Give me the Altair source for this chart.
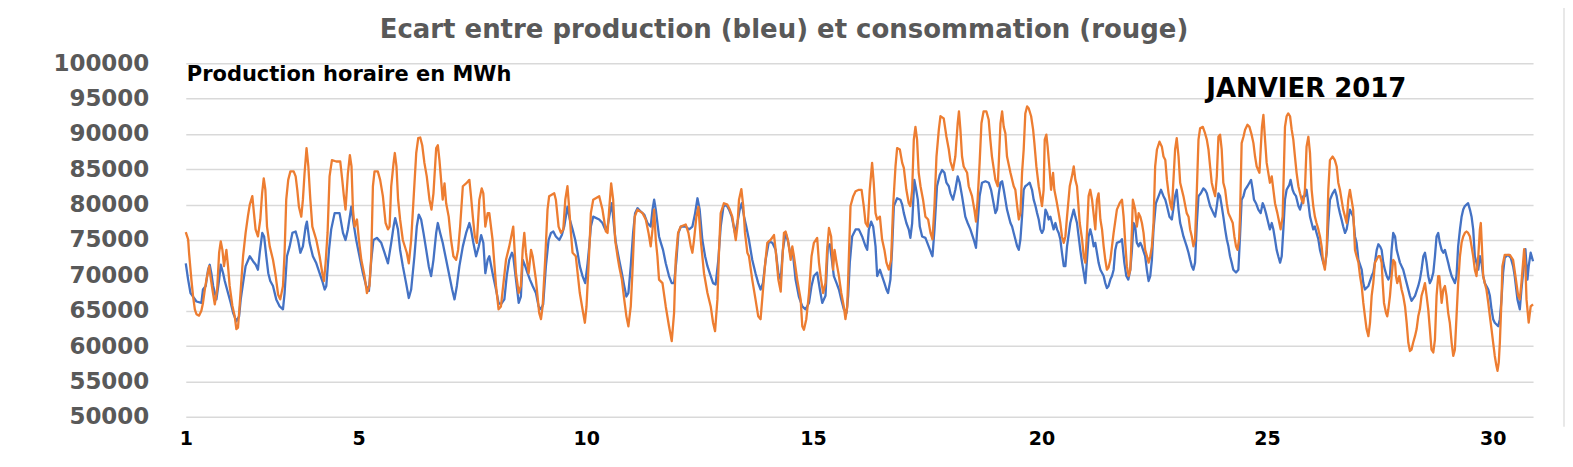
import altair as alt
import pandas as pd

# hourly production (blue): (hour of month, MWh)
production = [
    (0, 71700), (1.3, 69400), (2.6, 67500), (4.0, 67000), (5.9, 66300), (8.6, 66100), (9.5, 68000),
    (11.0, 68500), (12.3, 70800), (13.2, 71500), (14.1, 70300), (15.1, 68500), (16.9, 66600),
    (18.4, 69400), (19.3, 71500), (20.6, 70300), (21.5, 69200), (23.3, 67500), (24.8, 66100),
    (26.1, 64700), (27.9, 63500), (29.4, 64200), (30.3, 66600), (31.6, 68900), (33.0, 71300),
    (35.3, 72700), (37.1, 72000), (38.6, 71500), (39.8, 70800), (40.8, 73200), (42.2, 76000),
    (43.2, 75500), (44.4, 72700), (45.5, 70300), (46.6, 69200), (48.1, 68500), (49.9, 66600),
    (51.8, 65600), (53.6, 65200), (54.5, 67500), (55.8, 72700), (57.3, 74100), (58.8, 76000),
    (60.6, 76200), (61.9, 75000), (63.2, 73200), (64.6, 74100), (66.1, 76900), (66.8, 77600),
    (68.3, 74600), (70.1, 72700), (72.0, 71700), (73.8, 70300), (75.3, 69200), (76.6, 68000),
    (77.5, 68500), (79.0, 73600), (80.2, 76500), (82.1, 78800), (84.8, 78800), (86.7, 76000),
    (88.1, 75000), (89.4, 76500), (91.3, 79700), (92.5, 77400), (94.0, 75000), (95.8, 72700),
    (97.7, 70300), (99.5, 68500), (101.0, 67800), (102.3, 72200), (103.5, 75000), (105.4, 75300),
    (107.8, 74600), (109.6, 73200), (111.5, 71700), (113.3, 74600), (114.6, 76900), (115.5, 78100),
    (117.0, 76500), (118.2, 73600), (119.7, 71300), (121.5, 68900), (123.0, 66800), (124.3, 68000),
    (126.1, 72700), (127.4, 76900), (128.5, 78600), (129.8, 77900), (131.1, 76000), (132.6, 73600),
    (134.0, 71300), (135.3, 69900), (136.6, 72200), (138.1, 76000), (139.0, 77400), (140.3, 76000),
    (141.7, 74600), (143.6, 72200), (145.4, 69900), (146.9, 68000), (148.2, 66600), (149.5, 68500),
    (150.9, 71300), (152.8, 74100), (154.6, 76000), (156.4, 77400), (157.3, 76500), (158.6, 74600),
    (160.1, 72700), (161.6, 74100), (162.9, 75700), (164.1, 74600), (165.2, 70300), (166.5, 72200),
    (167.4, 72700), (169.2, 70300), (171.1, 68000), (172.5, 66100), (173.8, 65900), (175.7, 66600),
    (177.0, 69900), (178.4, 72200), (179.9, 73200), (180.6, 72700), (182.1, 69400), (183.6, 66100),
    (184.8, 67000), (185.8, 72200), (187.2, 71300), (188.5, 70300), (189.8, 69400), (191.3, 68500),
    (193.1, 67500), (194.6, 65600), (195.9, 65200), (197.1, 65900), (198.6, 71300), (200.1, 75000),
    (201.4, 76000), (202.7, 76200), (204.1, 75500), (206.0, 75000), (207.4, 75700), (208.7, 76900),
    (210.5, 79700), (211.8, 77900), (213.3, 76500), (214.8, 75000), (216.1, 73200), (217.3, 71300),
    (218.8, 69900), (220.3, 68900), (221.6, 71700), (222.5, 74100), (223.4, 76900), (224.7, 78300),
    (228.0, 77900), (229.8, 77400), (231.3, 76500), (232.6, 76900), (233.9, 78800), (235.0, 80200),
    (236.2, 76900), (237.2, 74600), (239.0, 72200), (240.5, 70300), (241.8, 68500), (243.0, 67000),
    (244.1, 67500), (245.4, 71300), (246.7, 76000), (247.8, 78800), (249.1, 79500), (251.0, 79000),
    (252.8, 78600), (254.6, 77400), (256.4, 76900), (257.4, 79300), (258.3, 80700), (259.2, 79300),
    (261.0, 75500), (262.0, 74600), (263.2, 73600), (264.7, 71700), (266.5, 69900), (268.0, 68900),
    (269.3, 68900), (270.6, 72200), (271.7, 76000), (273.0, 76900), (275.7, 76900), (277.6, 76500),
    (279.4, 76900), (280.9, 78800), (282.2, 80900), (283.4, 79300), (284.9, 75000), (286.4, 72700),
    (287.7, 71300), (289.5, 69900), (290.8, 68900), (292.2, 68700), (293.7, 72200), (295.0, 76900),
    (296.5, 79700), (298.1, 80000), (299.6, 79300), (301.1, 78300), (302.9, 76000), (304.2, 77400),
    (305.5, 79300), (306.6, 80200), (307.9, 78300), (309.1, 76900), (310.6, 75000), (312.4, 72200),
    (314.2, 70300), (315.7, 68900), (317.0, 68000), (318.3, 68900), (319.8, 72200), (321.6, 74800),
    (323.5, 74600), (325.3, 73600), (326.8, 70300), (328.1, 69400), (329.3, 73600), (330.8, 76000),
    (332.3, 74600), (333.6, 72700), (334.8, 73200), (336.3, 69400), (338.1, 67000), (340.0, 65600),
    (341.8, 65200), (343.7, 66100), (345.1, 68500), (346.4, 69900), (348.2, 70400), (349.7, 68000),
    (351.0, 66100), (352.8, 67100), (354.1, 74100), (355.2, 74400), (356.5, 71800), (357.4, 69900),
    (358.9, 68900), (360.2, 68000), (361.5, 66600), (362.9, 65200), (364.4, 64700), (365.3, 67100),
    (366.2, 71800), (367.5, 75500), (369.4, 76500), (371.2, 76500), (373.0, 75500), (374.9, 74100),
    (375.8, 73600), (376.7, 76500), (378.0, 77600), (379.1, 76900), (380.4, 74100), (381.3, 69900),
    (382.8, 70800), (384.0, 69900), (385.3, 68900), (386.4, 68000), (387.3, 67500), (388.6, 69400),
    (389.5, 73600), (390.5, 79800), (392.3, 80900), (394.1, 80700), (395.1, 80000), (396.0, 78800),
    (397.4, 77400), (398.7, 76500), (399.6, 75300), (400.6, 77400), (401.8, 83500), (402.8, 82100),
    (403.7, 80700), (404.8, 76900), (406.1, 75500), (407.9, 75300), (409.7, 74100), (411.0, 73200),
    (411.8, 72700), (412.9, 76500), (414.3, 82600), (415.8, 84200), (417.1, 84900), (418.4, 84500),
    (419.5, 83100), (420.8, 82600), (421.7, 81600), (423.1, 80700), (424.4, 82100), (425.7, 84000),
    (426.8, 83100), (428.1, 81200), (429.9, 78300), (431.2, 77400), (432.7, 76500), (434.5, 75100),
    (435.8, 73900), (436.7, 77400), (437.8, 81200), (439.1, 83100), (441.0, 83300), (442.8, 83100),
    (444.1, 82100), (445.5, 80200), (446.5, 78800), (447.4, 79300), (448.4, 81600), (449.3, 83100),
    (450.2, 83300), (451.1, 82100), (452.0, 80700), (452.9, 79300), (453.9, 78300), (454.8, 77400),
    (455.7, 76900), (456.6, 76000), (457.5, 75100), (458.5, 74100), (459.4, 73600), (460.3, 75100),
    (461.2, 78300), (462.1, 82100), (463.0, 82600), (464.0, 82800), (465.4, 83100), (466.7, 82100),
    (467.6, 80700), (468.6, 79800), (469.5, 78800), (470.4, 77900), (471.3, 76500), (472.2, 76000),
    (473.1, 76500), (474.1, 79300), (475.0, 78800), (475.9, 77900), (476.8, 78300), (477.7, 77400),
    (478.6, 76500), (479.6, 77400), (480.5, 76500), (481.4, 76000), (482.3, 75100), (483.2, 73200),
    (484.2, 71300), (485.1, 71300), (486.0, 74100), (487.8, 77400), (489.7, 79300), (490.6, 78300),
    (491.5, 77400), (492.4, 75500), (493.3, 73600), (494.3, 71800), (495.2, 70400), (496.1, 68900),
    (497.0, 72200), (497.9, 75500), (498.8, 76500), (499.8, 75500), (500.7, 74100), (501.6, 74600),
    (502.5, 73200), (503.4, 71800), (504.4, 70800), (506.2, 69900), (507.1, 68900), (508.0, 68200),
    (508.9, 68500), (509.9, 69400), (510.8, 69900), (511.7, 70800), (512.6, 73600), (513.5, 74600),
    (515.4, 74800), (516.3, 75100), (517.6, 71800), (518.7, 69900), (519.8, 69400), (520.9, 70800),
    (521.8, 73600), (522.7, 77400), (523.6, 76900), (524.5, 74600), (525.5, 74100), (526.4, 74600),
    (527.3, 74100), (529.1, 72700), (530.1, 70600), (531.0, 69200), (531.9, 69900), (532.8, 72200),
    (533.7, 76500), (535.0, 80200), (536.5, 81200), (537.8, 82100), (539.2, 81200), (540.2, 80700),
    (541.1, 79800), (542.5, 78300), (543.8, 77900), (545.6, 81200), (546.5, 82100), (547.5, 79300),
    (548.4, 77400), (549.3, 76500), (550.2, 75500), (551.1, 74800), (552.0, 74100), (553.0, 73200),
    (553.9, 72200), (554.8, 71300), (555.7, 70800), (556.6, 71800), (557.6, 77400), (558.5, 81200),
    (559.8, 81600), (561.2, 82300), (562.1, 82100), (563.1, 81600), (564.0, 80700), (564.9, 79800),
    (565.8, 79300), (566.7, 78800), (567.7, 78300), (568.6, 79800), (569.5, 81600), (570.4, 81200),
    (571.3, 79800), (572.2, 78300), (573.2, 76500), (574.1, 75100), (575.0, 74100), (575.9, 72700),
    (576.8, 71800), (577.7, 70800), (579.2, 70400), (580.5, 70800), (581.4, 75500), (582.3, 80700),
    (583.3, 81200), (584.2, 82100), (585.5, 82600), (586.6, 83100), (587.5, 83500), (588.4, 82100),
    (589.1, 80700), (590.2, 80200), (591.5, 79300), (592.8, 78800), (593.9, 80200), (594.6, 79800),
    (595.7, 78800), (597.0, 77400), (597.9, 76500), (598.9, 77400), (599.8, 76500), (600.7, 75100),
    (601.6, 73600), (602.5, 72700), (603.5, 71800), (604.4, 72700), (605.3, 76500), (606.2, 80700),
    (607.1, 82100), (608.6, 82800), (609.3, 83500), (610.4, 82100), (611.2, 81600), (612.3, 81200),
    (613.6, 79800), (614.5, 79300), (615.4, 80200), (616.3, 81200), (617.2, 81200), (618.1, 82100),
    (619.1, 80200), (620.0, 78300), (620.9, 77400), (621.8, 76500), (622.7, 76900), (623.6, 76000),
    (624.6, 75100), (625.5, 73600), (626.4, 72700), (627.3, 71800), (628.2, 71300), (629.2, 73200),
    (630.1, 77400), (631.0, 80700), (632.5, 81600), (633.7, 82100), (634.7, 81200), (635.6, 79800),
    (636.5, 78800), (637.4, 77900), (638.3, 76900), (639.3, 76000), (640.2, 76500), (641.1, 77900),
    (642.0, 79300), (642.9, 78800), (643.8, 78300), (644.8, 75500), (645.7, 74600), (646.7, 72200),
    (648.5, 70800), (649.4, 68900), (650.3, 68000), (652.2, 68500), (654.0, 69900), (654.9, 70400),
    (655.8, 71800), (656.8, 73600), (657.7, 74400), (658.6, 74100), (659.5, 73600), (660.4, 71800),
    (661.3, 70800), (662.3, 69900), (663.2, 69400), (664.1, 69900), (665.0, 73600), (665.9, 76000),
    (666.9, 75500), (667.8, 73600), (668.7, 72700), (669.6, 71800), (671.4, 70800), (673.3, 68900),
    (675.1, 67100), (676.0, 66400), (677.9, 67100), (679.7, 68500), (680.6, 69400), (681.5, 70800),
    (682.5, 72700), (683.4, 73200), (684.3, 71800), (685.2, 69900), (686.1, 68900), (687.0, 69400),
    (688.0, 70400), (688.9, 72700), (689.8, 75500), (690.7, 76000), (691.6, 74600), (692.6, 73600),
    (693.5, 73200), (694.4, 73600), (695.3, 72700), (696.2, 71800), (697.1, 70800), (698.1, 69900),
    (699.0, 69400), (699.9, 68900), (700.8, 69900), (701.7, 74100), (702.7, 76500), (703.6, 78300),
    (704.5, 79300), (705.4, 79800), (707.2, 80200), (708.2, 79300), (709.1, 78300), (710.0, 76500),
    (710.9, 72700), (711.8, 71800), (712.8, 70800), (713.7, 72700), (714.6, 71800), (715.5, 69900),
    (716.4, 68900), (717.3, 68500), (718.3, 68000), (719.2, 67100), (720.1, 65200), (721.0, 63800),
    (721.9, 63300), (723.8, 62800), (724.7, 63800), (725.6, 66600), (726.5, 70400), (727.4, 72500),
    (729.2, 72900), (730.7, 72500), (732.0, 71300), (732.9, 69900), (734.4, 66600), (735.7, 65200),
    (736.6, 68000), (738.1, 71800), (738.8, 73700), (739.9, 69400), (740.6, 71300), (741.7, 73200),
    (743.0, 72000),
]

# hourly consumption (orange): (hour of month, MWh)
consommation = [
    (0, 76100), (1.3, 75100), (1.8, 73200), (3.1, 69400), (4.0, 67100), (5.0, 65200), (5.9, 64500),
    (7.3, 64300), (8.6, 65000), (9.5, 66100), (10.5, 68000), (11.4, 69400), (12.9, 71300),
    (13.6, 69900), (14.7, 68000), (16.0, 65900), (17.3, 68000), (18.4, 73200), (19.3, 74800),
    (20.2, 73600), (21.1, 71300), (22.4, 73600), (23.3, 71300), (24.2, 68500), (25.7, 65700),
    (27.0, 64200), (27.9, 62400), (28.8, 62600), (29.7, 65700), (30.7, 69400), (31.6, 72700),
    (33.0, 76000), (34.3, 78400), (35.3, 80000), (36.7, 81200), (37.6, 78800), (38.5, 76500),
    (39.8, 75500), (41.1, 77900), (42.1, 81600), (43.0, 83700), (43.9, 82100), (44.8, 76900),
    (46.3, 74100), (48.1, 72200), (49.6, 69900), (50.9, 67300), (52.1, 66600), (53.6, 68500),
    (54.5, 73200), (55.4, 80700), (56.5, 83500), (57.7, 84700), (59.5, 84700), (60.6, 84000),
    (61.5, 82100), (62.4, 79700), (63.7, 78300), (64.6, 80700), (65.5, 84400), (66.6, 88000),
    (67.6, 85400), (68.7, 80700), (69.8, 76900), (72.0, 75000), (73.8, 72700), (75.3, 70300),
    (76.2, 69200), (77.1, 71700), (78.2, 76000), (79.3, 84000), (80.6, 86300), (83.0, 86100),
    (85.2, 86100), (86.3, 83500), (87.2, 81200), (88.1, 79300), (89.4, 84400), (90.5, 87000),
    (91.4, 85400), (92.2, 79300), (93.1, 76900), (94.4, 77900), (95.5, 75000), (96.8, 72200),
    (98.6, 69900), (99.9, 67500), (101.3, 68500), (102.3, 72700), (103.2, 82600), (104.1, 84700),
    (105.9, 84700), (107.2, 83500), (108.7, 81200), (110.2, 77400), (111.5, 76500), (112.4, 76900),
    (113.3, 82600), (114.6, 85900), (115.3, 87300), (116.2, 85400), (117.1, 80700), (118.2, 77900),
    (119.7, 75000), (121.9, 73200), (123.0, 71700), (124.3, 75000), (125.8, 81600), (127.1, 87300),
    (128.2, 89400), (129.3, 89500), (130.4, 88400), (131.6, 85900), (132.9, 84000), (134.4, 80700),
    (135.5, 79300), (136.6, 81600), (138.1, 88000), (139.0, 88400), (139.9, 86300), (140.8, 83500),
    (141.7, 80700), (142.7, 83000), (143.6, 80200), (145.0, 78300), (146.3, 75000), (147.6, 72700),
    (149.1, 72200), (150.2, 73600), (151.3, 76900), (152.8, 82600), (154.6, 83000), (156.4, 83500),
    (157.3, 81200), (158.3, 78300), (159.4, 75500), (160.5, 74600), (161.9, 80700), (163.2, 82300),
    (164.1, 81600), (165.2, 76900), (166.5, 78800), (167.4, 78800), (169.2, 75000), (171.1, 68500),
    (172.5, 65200), (173.8, 65600), (176.6, 72200), (178.4, 74100), (180.6, 76900), (182.1, 70300),
    (183.6, 67500), (184.8, 68500), (185.8, 73600), (186.7, 76000), (187.6, 73200), (189.1, 70300),
    (190.4, 73600), (191.3, 72700), (193.1, 69400), (194.9, 64700), (195.9, 63800), (196.8, 65600),
    (198.2, 72200), (199.5, 79300), (200.4, 81200), (203.2, 81600), (204.1, 80700), (205.6, 76900),
    (206.9, 76000), (208.2, 76500), (209.3, 80700), (210.5, 82600), (211.5, 79300), (212.4, 76000),
    (213.3, 73200), (215.1, 72700), (216.1, 70300), (217.3, 67500), (218.8, 65200), (220.1, 63300),
    (221.0, 65600), (222.1, 71300), (222.8, 75000), (223.4, 78800), (224.7, 80700), (228.0, 81200),
    (229.8, 79300), (231.7, 76200), (232.6, 76000), (233.5, 79300), (234.6, 83000), (235.7, 80700),
    (236.8, 75000), (238.1, 72700), (239.0, 71300), (240.5, 69400), (241.8, 66600), (243.0, 64200),
    (244.1, 62800), (245.4, 65600), (246.3, 70300), (247.6, 78300), (249.1, 79300), (251.9, 78800),
    (253.7, 77900), (255.2, 76000), (256.4, 74100), (257.4, 76500), (258.3, 79300), (259.2, 75000),
    (260.1, 72700), (261.0, 69400), (262.9, 68900), (264.7, 65600), (266.5, 62800), (268.0, 60700),
    (269.3, 64700), (270.2, 72200), (271.5, 76000), (273.0, 76900), (275.7, 77200), (277.2, 76000),
    (278.5, 74100), (279.4, 73200), (280.3, 75000), (281.6, 78300), (282.7, 79700), (284.0, 75000),
    (285.8, 70300), (287.7, 67500), (289.5, 65600), (290.8, 63300), (291.9, 62100), (293.2, 66600),
    (294.1, 73600), (295.0, 78800), (296.8, 80200), (298.7, 80000), (300.0, 79300), (301.4, 78300),
    (303.3, 75000), (304.2, 76900), (305.1, 80700), (306.4, 82200), (307.5, 79700), (308.4, 76000),
    (309.7, 73200), (310.6, 72700), (312.4, 69400), (314.2, 66600), (315.7, 64200), (317.0, 63800),
    (317.9, 66600), (319.4, 71300), (320.7, 74600), (322.5, 75000), (324.4, 75700), (325.3, 73600),
    (326.8, 69400), (328.1, 67700), (329.0, 72200), (329.9, 76000), (330.8, 76200), (332.1, 75000),
    (333.6, 72200), (334.5, 74100), (335.4, 72700), (337.2, 69400), (339.1, 66600), (340.0, 62800),
    (340.9, 62300), (342.2, 63800), (343.7, 67500), (345.1, 72700), (346.4, 74600), (348.2, 75300),
    (349.2, 71800), (350.1, 69900), (351.5, 67500), (352.8, 68900), (353.7, 73600), (354.7, 76700),
    (355.9, 75500), (357.0, 70800), (357.8, 73600), (358.9, 71800), (360.2, 69900), (361.5, 67500),
    (362.9, 65600), (363.8, 63800), (364.8, 65600), (365.7, 72700), (366.6, 79800), (368.1, 81200),
    (369.4, 81900), (371.2, 82100), (372.7, 82100), (373.9, 79800), (374.9, 77400), (376.1, 76900),
    (377.2, 82100), (378.5, 85900), (379.4, 83100), (380.4, 78800), (381.3, 77900), (382.8, 78300),
    (384.0, 75100), (385.3, 73600), (386.4, 71800), (387.7, 70800), (389.0, 72200), (390.1, 79800),
    (391.4, 85400), (392.3, 88000), (393.8, 87800), (395.1, 85900), (396.0, 85200), (397.4, 82100),
    (398.7, 80200), (399.6, 79800), (400.6, 82100), (401.5, 89200), (402.4, 91000), (403.3, 89200),
    (404.2, 84500), (405.2, 82600), (406.6, 80700), (407.9, 78300), (409.4, 77900), (410.7, 76000),
    (411.8, 75100), (412.9, 79800), (414.0, 86800), (415.3, 90600), (416.2, 92500), (418.0, 92200),
    (419.5, 89600), (420.8, 87800), (421.7, 86100), (423.1, 84900), (424.4, 86800), (425.7, 91500),
    (426.4, 93200), (427.2, 90600), (428.1, 86800), (429.0, 85400), (430.9, 84500), (431.8, 82600),
    (433.6, 81200), (434.9, 79300), (435.8, 77600), (436.7, 80700), (437.8, 85900), (438.8, 91500),
    (440.0, 93200), (441.5, 93200), (442.8, 92000), (443.7, 89200), (444.6, 86800), (446.5, 83500),
    (447.8, 82600), (449.3, 91500), (450.2, 93200), (451.1, 91000), (452.0, 90100), (452.9, 86800),
    (454.8, 84500), (456.6, 82600), (457.5, 82100), (458.5, 79800), (459.4, 77900), (460.3, 78800),
    (461.2, 84500), (462.1, 87800), (463.0, 92900), (464.0, 93900), (464.9, 93600), (466.2, 92500),
    (467.3, 90600), (468.0, 88700), (469.1, 85400), (470.4, 82600), (471.3, 81200), (472.2, 79800),
    (473.1, 82100), (473.7, 89200), (474.6, 89900), (475.3, 88200), (476.4, 84900), (477.2, 82100),
    (478.3, 84500), (479.0, 82100), (480.1, 80700), (481.4, 78800), (482.3, 77400), (483.2, 75500),
    (484.2, 74600), (485.1, 75500), (486.0, 78300), (487.5, 82600), (488.7, 84000), (489.7, 85400),
    (490.6, 83500), (491.5, 82600), (493.0, 77400), (494.3, 75100), (495.2, 72700), (496.1, 71800),
    (497.0, 76000), (497.9, 81200), (498.8, 82100), (499.8, 80700), (501.6, 76500), (502.5, 80700),
    (503.4, 81600), (504.4, 77900), (505.3, 76500), (506.2, 74100), (507.1, 72200), (508.0, 70800),
    (508.9, 71100), (509.9, 72200), (510.8, 74100), (511.7, 76000), (513.5, 79300), (515.0, 80200),
    (516.3, 80700), (517.2, 78300), (518.1, 74600), (519.0, 71300), (520.0, 69900), (520.9, 70800),
    (521.8, 76500), (522.3, 80700), (523.6, 79300), (524.5, 76900), (525.5, 78800), (526.4, 78300),
    (527.3, 77400), (528.2, 76000), (529.1, 73600), (530.1, 72700), (531.0, 71800), (531.9, 72700),
    (532.8, 74100), (533.7, 77400), (534.6, 85400), (535.6, 87800), (537.0, 88900), (538.3, 88200),
    (539.2, 86800), (540.2, 86300), (541.1, 83500), (542.0, 81600), (542.9, 80200), (543.8, 79300),
    (545.6, 87800), (546.5, 89400), (547.5, 86800), (548.4, 83100), (550.2, 81200), (552.0, 78800),
    (553.0, 78300), (553.9, 76500), (554.8, 75500), (555.7, 74100), (556.6, 75100), (557.6, 82100),
    (558.5, 89200), (559.4, 90800), (560.9, 91000), (562.1, 90100), (563.1, 89200), (564.0, 87800),
    (564.9, 85400), (565.8, 83100), (566.7, 82100), (567.7, 81200), (568.6, 84000), (569.5, 89600),
    (570.4, 89900), (571.3, 87800), (572.2, 83100), (573.2, 82100), (574.1, 80200), (575.0, 78800),
    (575.9, 78300), (577.4, 77400), (578.3, 75500), (579.2, 74100), (580.0, 73600), (580.9, 75100),
    (581.4, 78300), (582.3, 88700), (583.3, 89600), (584.2, 90600), (585.5, 91300), (586.6, 91000),
    (587.8, 89900), (588.8, 88700), (589.7, 86800), (590.6, 85400), (592.1, 84500), (592.8, 87800),
    (593.5, 91000), (594.3, 92700), (595.2, 89200), (596.1, 85900), (597.0, 84500), (597.9, 83100),
    (598.9, 84000), (599.8, 82100), (600.7, 80200), (602.0, 78800), (603.1, 77400), (603.8, 76500),
    (604.9, 78300), (606.2, 91000), (607.1, 92500), (608.0, 92900), (609.0, 92500), (609.9, 90600),
    (610.8, 89200), (611.7, 86800), (612.6, 84500), (613.6, 82600), (614.5, 81600), (615.4, 80700),
    (616.3, 80200), (617.2, 82100), (618.1, 88200), (619.1, 89600), (620.0, 87300), (620.9, 82100),
    (621.8, 79800), (622.7, 78300), (623.6, 77400), (624.6, 76500), (625.5, 75500), (626.4, 74100),
    (627.3, 71800), (628.2, 70800), (629.2, 73600), (630.1, 82100), (631.0, 86300), (632.5, 86800),
    (633.7, 86300), (634.7, 85400), (635.6, 83100), (636.5, 82100), (637.4, 80700), (638.3, 79300),
    (639.3, 78300), (640.2, 77400), (641.1, 80700), (642.0, 82100), (642.9, 80700), (643.8, 79300),
    (644.8, 73600), (645.7, 72700), (646.7, 71800), (647.6, 69900), (648.5, 68500), (649.4, 66100),
    (650.3, 64200), (651.2, 62400), (652.2, 61400), (653.1, 63300), (654.0, 67100), (654.9, 68900),
    (655.8, 71800), (657.7, 72700), (658.6, 72700), (659.5, 71800), (660.1, 68900), (660.8, 66100),
    (661.9, 64700), (662.6, 64200), (663.2, 65200), (664.1, 67100), (665.0, 69900), (665.9, 72200),
    (666.9, 71800), (667.4, 69900), (668.1, 68900), (669.2, 69900), (670.5, 68000), (671.4, 67100),
    (672.4, 65600), (673.3, 63300), (674.2, 60500), (675.1, 59300), (676.0, 59500), (676.9, 60500),
    (677.9, 61400), (678.8, 62400), (679.7, 64200), (680.6, 65200), (681.5, 67100), (682.5, 68000),
    (683.4, 68900), (684.3, 67100), (685.2, 65200), (686.1, 62400), (687.0, 59500), (688.0, 59100),
    (688.9, 60900), (689.8, 67100), (690.7, 69900), (691.3, 69900), (692.0, 68000), (692.6, 66100),
    (693.5, 68000), (694.4, 68500), (695.3, 67100), (696.2, 64700), (697.1, 63300), (698.1, 60500),
    (699.0, 58600), (699.9, 59500), (700.8, 64200), (701.7, 68900), (702.7, 72700), (703.6, 74600),
    (704.5, 75500), (705.4, 76000), (706.3, 76200), (707.2, 76000), (708.2, 75500), (709.1, 74100),
    (710.0, 72700), (710.9, 70800), (711.8, 69900), (712.8, 72700), (713.7, 76500), (714.2, 77400),
    (714.8, 74100), (715.5, 69900), (716.4, 68900), (717.3, 68000), (718.3, 66100), (719.2, 64200),
    (720.1, 62400), (721.0, 60500), (721.9, 58600), (722.8, 57200), (723.4, 56500), (724.1, 57700),
    (724.7, 60500), (725.6, 66600), (726.1, 71300), (727.4, 72900), (730.2, 72900), (732.0, 72200),
    (733.3, 69900), (734.8, 67100), (735.7, 66600), (736.6, 68900), (738.1, 73700), (738.8, 71300),
    (739.4, 66600), (740.6, 63300), (741.7, 65600), (743.0, 65900),
]

# day labels of the horizontal axis and where they sit (in hours)
x_tick_hours = [0, 95.3, 220.8, 345.9, 471.9, 596.3, 720.8]
x_tick_labels = ["1", "5", "10", "15", "20", "25", "30"]
y_ticks = [50000, 55000, 60000, 65000, 70000, 75000, 80000, 85000, 90000, 95000, 100000]

title_text = "Ecart entre production (bleu) et consommation (rouge)"
note_left = "Production horaire en MWh"
note_right = "JANVIER 2017"

BLUE = "#4472C4"
ORANGE = "#ED7D31"
GRID = "#D9D9D9"
FONT = "DejaVu Sans"

rows = [{"heure": h, "mwh": v, "serie": "Production"} for h, v in production]
rows += [{"heure": h, "mwh": v, "serie": "Consommation"} for h, v in consommation]
df = pd.DataFrame(rows)

label_expr = "".join(
    f"datum.value == {h} ? '{l}' : " for h, l in zip(x_tick_hours, x_tick_labels)
) + "''"

x_enc = alt.X(
    "heure:Q",
    scale=alt.Scale(domain=[0, 743], nice=False, zero=False),
    axis=alt.Axis(
        values=x_tick_hours, labelExpr=label_expr, title=None, grid=False, ticks=False,
        domain=False, labelFont=FONT, labelFontSize=19, labelFontWeight="bold",
        labelColor="#000000", labelPadding=13, labelFlush=False, labelOverlap=False,
    ),
)
y_enc = alt.Y(
    "mwh:Q",
    scale=alt.Scale(domain=[50000, 100000], nice=False, zero=False),
    axis=alt.Axis(
        values=y_ticks, format="d", title=None, grid=True, gridColor=GRID, gridWidth=1.5,
        ticks=False, domain=False, labelFont=FONT, labelFontSize=23, labelFontWeight="bold",
        labelColor="#595959", labelPadding=37, labelFlush=False, labelOverlap=False,
    ),
)

base = alt.Chart(df)
blue = base.transform_filter(alt.datum.serie == "Production").mark_line(
    color=BLUE, strokeWidth=2.3, strokeJoin="round"
).encode(x=x_enc, y=y_enc)
orange = base.transform_filter(alt.datum.serie == "Consommation").mark_line(
    color=ORANGE, strokeWidth=2.3, strokeJoin="round"
).encode(x=x_enc, y=y_enc)

one = pd.DataFrame({"k": [0]})
frame_top = alt.Chart(one).mark_rule(color=GRID, strokeWidth=1.2).encode(
    x=alt.value(-181), x2=alt.value(1380), y=alt.value(-59)
)
frame_left = alt.Chart(one).mark_rule(color=GRID, strokeWidth=1.2).encode(
    x=alt.value(-181), y=alt.value(-59), y2=alt.value(364)
)
frame_right = alt.Chart(one).mark_rule(color=GRID, strokeWidth=1.2).encode(
    x=alt.value(1380), y=alt.value(-59), y2=alt.value(364)
)

title_mark = alt.Chart(pd.DataFrame({"t": [title_text]})).mark_text(
    align="center", baseline="alphabetic", font=FONT, fontSize=26, fontWeight="bold", color="#595959"
).encode(x=alt.value(599), y=alt.value(-25), text="t:N")
text_left = alt.Chart(pd.DataFrame({"t": [note_left]})).mark_text(
    align="left", baseline="alphabetic", font=FONT, fontSize=21, fontWeight="bold", color="#000000"
).encode(x=alt.value(1), y=alt.value(18), text="t:N")
text_right = alt.Chart(pd.DataFrame({"t": [note_right]})).mark_text(
    align="center", baseline="alphabetic", font=FONT, fontSize=26, fontWeight="bold", color="#000000"
).encode(x=alt.value(1122), y=alt.value(34), text="t:N")

chart = alt.layer(
    frame_top, frame_left, frame_right, blue, orange, title_mark, text_left, text_right
).properties(
    width=1349,
    height=354,
    autosize=alt.AutoSizeParams(type="none"),
    padding={"left": 178, "top": 55, "right": 32, "bottom": 42},
).configure_view(strokeWidth=0)

chart.save("out.html", embed_options={"renderer": "svg", "actions": False})
